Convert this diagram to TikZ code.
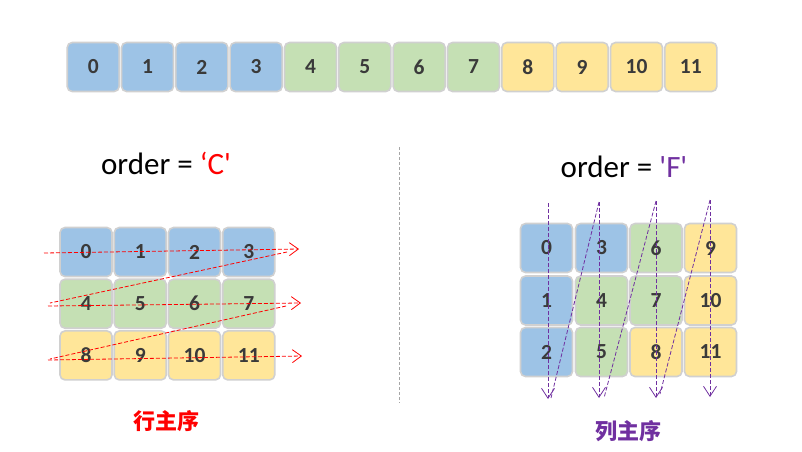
\documentclass[tikz,border=0pt]{standalone}
\usepackage{fontspec}
\setmainfont{Carlito}
\newfontfamily\plainfont{Carlito}[Ligatures=TeXOff]
\newfontfamily\cjkfont{Noto Sans CJK SC}
\usetikzlibrary{arrows.meta}
\definecolor{cblue}{HTML}{9DC3E6}
\definecolor{cgreen}{HTML}{C5E0B4}
\definecolor{cyellow}{HTML}{FFE699}
\definecolor{cborder}{HTML}{D0D0D0}
\definecolor{ctext}{HTML}{3A3A3A}
\definecolor{cpurple}{HTML}{7030A0}
\tikzset{
  cell/.style={draw=cborder, line width=1.6pt, rounded corners=5pt,
    minimum width=52pt, minimum height=49pt, inner sep=0pt,
    font=\fontsize{21.5}{21.5}\selectfont\bfseries, text=ctext},
  bcell/.style={cell, fill=cblue},
  gcell/.style={cell, fill=cgreen},
  ycell/.style={cell, fill=cyellow},
  redarrow/.style={draw=red, line width=0.8pt, dash pattern=on 4pt off 2pt,
    -{Straight Barb[length=9pt,width=13pt]}},
  redline/.style={draw=red, line width=0.8pt, dash pattern=on 4pt off 2pt},
  purarrow/.style={draw=cpurple, line width=0.8pt, dash pattern=on 4pt off 2pt,
    -{Straight Barb[length=10pt,width=13pt]}},
  purline/.style={draw=cpurple, line width=0.8pt, dash pattern=on 4pt off 2pt},
  title/.style={font=\plainfont\fontsize{31}{31}\selectfont, inner sep=0pt},
  cjklabel/.style={font=\cjkfont\bfseries\fontsize{22}{22}\selectfont, inner sep=0pt}
}
\begin{document}
\begin{tikzpicture}[x=1pt,y=-1pt]
\useasboundingbox (0,0) rectangle (802,451);
% top row
\foreach \i/\s in {0/bcell,1/bcell,2/bcell,3/bcell,4/gcell,5/gcell,6/gcell,7/gcell,8/ycell,9/ycell,10/ycell,11/ycell}{
  \node[\s] (t\i) at ({93.2+54.33*\i},67) {\i};
}
% separator
\coordinate (sepT) at (399,147);
\coordinate (sepB) at (399,403);
\draw[gray!70, line width=0.7pt, dash pattern=on 3pt off 2pt] (sepT) -- (sepB);
% titles
\node[title] (tc) at (166,163) {order = \textcolor{red}{‘C'}};
\node[title] (tf) at (624,167) {order = \textcolor{cpurple}{'F'}};
% left grid (C order)
\foreach \r/\s in {0/bcell,1/gcell,2/ycell}{
  \foreach \c in {0,1,2,3}{
    \pgfmathtruncatemacro{\v}{4*\r+\c}
    \node[\s] (l\v) at ({86+54.25*\c},{252+51.7*\r}) {\v};
  }
}
% right grid (F order)
\node[bcell] (r0) at (546.5,248) {0};
\node[bcell] (r1) at (546.5,300.5) {1};
\node[bcell] (r2) at (546.5,352) {2};
\node[bcell] (r3) at (601.5,248) {3};
\node[gcell] (r4) at (601.5,300.5) {4};
\node[gcell] (r5) at (601.5,352) {5};
\node[gcell] (r6) at (656,248) {6};
\node[gcell] (r7) at (656,300.5) {7};
\node[ycell] (r8) at (656,352) {8};
\node[ycell] (r9) at (710.5,248) {9};
\node[ycell] (r10) at (710.5,300.5) {10};
\node[ycell] (r11) at (710.5,352) {11};
% red arrows
\coordinate (ra1) at (44,253);  \coordinate (rb1) at (299,249);
\coordinate (ra2) at (48,306);  \coordinate (rb2) at (301,303);
\coordinate (ra3) at (48,360);  \coordinate (rb3) at (302,356);
\coordinate (rd1s) at (287,252); \coordinate (rd1e) at (50,303);
\coordinate (rd2s) at (286,306); \coordinate (rd2e) at (50,359);
\draw[redarrow] (ra1) -- (rb1);
\draw[redarrow] (ra2) -- (rb2);
\draw[redarrow] (ra3) -- (rb3);
\draw[redline] (rd1s) -- (rd1e);
\draw[redline] (rd2s) -- (rd2e);
% purple arrows
\coordinate (pa1) at (548,203); \coordinate (pb1) at (548,399);
\coordinate (pa2) at (599,202); \coordinate (pb2) at (599,398);
\coordinate (pa3) at (656,201); \coordinate (pb3) at (656,398);
\coordinate (pa4) at (710,200); \coordinate (pb4) at (710,397);
\coordinate (pd1e) at (551,398);
\coordinate (pd2e) at (604,398);
\coordinate (pd3e) at (660,394);
\draw[purarrow] (pa1) -- (pb1);
\draw[purarrow] (pa2) -- (pb2);
\draw[purarrow] (pa3) -- (pb3);
\draw[purarrow] (pa4) -- (pb4);
\draw[purline] (pa2) -- (pd1e);
\draw[purline] (pa3) -- (pd2e);
\draw[purline] (pa4) -- (pd3e);
% labels
\node[cjklabel, text=red] (lc) at (166,421) {行主序};
\node[cjklabel, text=cpurple] (lf) at (628,431) {列主序};
\end{tikzpicture}
\end{document}
